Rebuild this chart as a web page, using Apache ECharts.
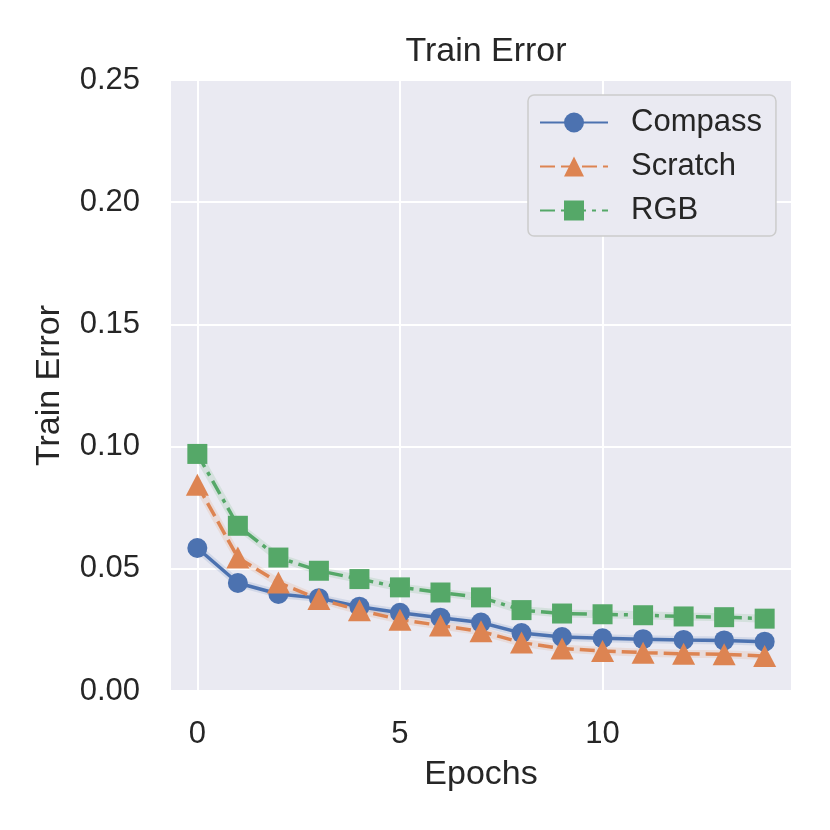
<!DOCTYPE html>
<html><head><meta charset="utf-8">
<script src="https://cdn.jsdelivr.net/npm/echarts@6/dist/echarts.min.js"></script>
<style>html,body{margin:0;padding:0;background:#fff}#c{width:830px;height:830px}</style>
</head><body><div id="c"></div>
<script>
const epochs = [0,1,2,3,4,5,6,7,8,9,10,11,12,13,14];
const compass = [0.0585,0.0442,0.0397,0.0380,0.0345,0.0320,0.0300,0.0280,0.0237,0.0221,0.0216,0.0212,0.0209,0.0207,0.0202];
const scratch = [0.0844,0.0546,0.0444,0.0376,0.0330,0.0292,0.0268,0.0244,0.0198,0.0174,0.0164,0.0157,0.0152,0.0150,0.0143];
const rgb = [0.0970,0.0676,0.0546,0.0492,0.0458,0.0424,0.0403,0.0383,0.0331,0.0317,0.0314,0.0310,0.0305,0.0302,0.0296];
const xTicks = [0,5,10];
const yTicks = [0,0.05,0.10,0.15,0.20,0.25];

const FONT = 'Liberation Sans, Arial, sans-serif';
const TXT = '#262626';
const toPts = arr => arr.map((v,i)=>[epochs[i], v]);

function band(data, color){
  return {type:'line', data:toPts(data), silent:true, showSymbol:false, symbol:'none',
    lineStyle:{color:color, width:8, opacity:0.15}, z:1, legendHoverLink:false, tooltip:{show:false}};
}

const chart = echarts.init(document.getElementById('c'), null, {renderer:'canvas'});
chart.setOption({
  backgroundColor:'#ffffff',
  animation:false,
  title:{text:'Train Error', left:481, top:30, textAlign:'center',
    textStyle:{fontFamily:FONT, fontSize:34, fontWeight:'normal', color:TXT}},
  grid:{left:171, right:39, top:80, bottom:139, show:true, backgroundColor:'#EAEAF2', borderWidth:0},
  legend:{
    data:['Compass','Scratch','RGB'],
    orient:'vertical', left:528, top:95,
    backgroundColor:'#EAEAF2', borderColor:'#cccccc', borderWidth:1.5, borderRadius:6,
    padding:[12,14,10,11], itemGap:13, itemWidth:68, itemHeight:25,
    textStyle:{fontFamily:FONT, fontSize:31, color:TXT, padding:[0,0,0,18]}
  },
  xAxis:{type:'value', min:-0.65, max:14.65,
    name:'Epochs', nameLocation:'middle', nameGap:67,
    nameTextStyle:{fontFamily:FONT, fontSize:34, color:TXT},
    axisLine:{show:false}, axisTick:{show:false, customValues:xTicks},
    axisLabel:{customValues:xTicks, fontFamily:FONT, fontSize:31, color:TXT, margin:28},
    splitLine:{show:true, lineStyle:{color:'#ffffff', width:2}}
  },
  yAxis:{type:'value', min:0, max:0.25, interval:0.05,
    name:'Train Error', nameLocation:'middle', nameGap:104, nameRotate:90,
    nameTextStyle:{fontFamily:FONT, fontSize:34, color:TXT},
    axisLine:{show:false}, axisTick:{show:false},
    axisLabel:{fontFamily:FONT, fontSize:31, color:TXT, margin:31, formatter:v=>v.toFixed(2)},
    splitLine:{show:true, lineStyle:{color:'#ffffff', width:2}}
  },
  series:[
    band(compass,'#4C72B0'), band(scratch,'#DD8452'), band(rgb,'#55A868'),
    {name:'Compass', type:'line', data:toPts(compass), symbol:'circle', symbolSize:20,
      lineStyle:{color:'#4C72B0', width:3.5}, itemStyle:{color:'#4C72B0'}, z:3},
    {name:'Scratch', type:'line', data:toPts(scratch), symbol:'triangle', symbolSize:[23,22],
      lineStyle:{color:'#DD8452', width:3.5, type:[15,6]}, itemStyle:{color:'#DD8452'}, z:3},
    {name:'RGB', type:'line', data:toPts(rgb), symbol:'rect', symbolSize:20,
      lineStyle:{color:'#55A868', width:3.5, type:[15,6,4,6]}, itemStyle:{color:'#55A868'}, z:3}
  ]
});
</script></body></html>
